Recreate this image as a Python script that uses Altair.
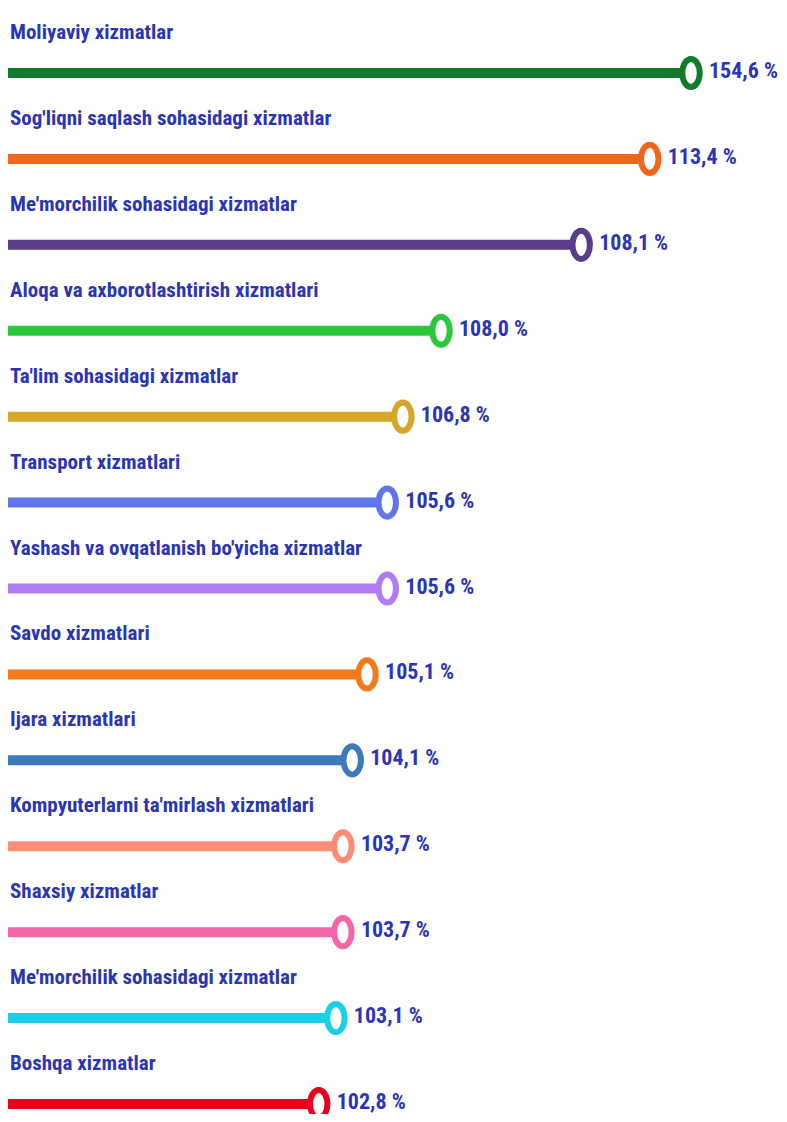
import altair as alt
import pandas as pd

categories = [
    "Moliyaviy xizmatlar",
    "Sog'liqni saqlash sohasidagi xizmatlar",
    "Me'morchilik sohasidagi xizmatlar",
    "Aloqa va axborotlashtirish xizmatlari",
    "Ta'lim sohasidagi xizmatlar",
    "Transport xizmatlari",
    "Yashash va ovqatlanish bo'yicha xizmatlar",
    "Savdo xizmatlari",
    "Ijara xizmatlari",
    "Kompyuterlarni ta'mirlash xizmatlari",
    "Shaxsiy xizmatlar",
    "Me'morchilik sohasidagi xizmatlar",
    "Boshqa xizmatlar",
]
values = [154.6, 113.4, 108.1, 108.0, 106.8, 105.6, 105.6, 105.1, 104.1, 103.7, 103.7, 103.1, 102.8]
# displayed bar length (% of the track), as drawn in the infographic
bar_length = [87.7, 82.4, 73.6, 55.6, 50.7, 48.7, 48.7, 46.1, 44.2, 43.0, 43.0, 42.1, 39.9]
colors = [
    "#137a2a", "#f4661b", "#5c3d8c", "#2cc83c", "#d6a62a", "#6176e8", "#b27cf2",
    "#f27a1a", "#3b7bbd", "#ff8c75", "#f566a6", "#1ccfe8", "#e8001c",
]

TEXT_COLOR = "#2a36b4"
FONT = "Liberation Sans Narrow, Arial Narrow, Roboto Condensed, sans-serif"

df = pd.DataFrame({
    "row": list(range(len(categories))),
    "category": categories,
    "value": values,
    "length": bar_length,
    "color": colors,
})
df["zero"] = 0
df["label"] = [f"{v:.1f}".replace(".", ",") + " %" for v in values]

xscale = alt.Scale(domain=[0, 99])
yscale = alt.Scale(domain=[0, 12], range=[65, 1096])
y = alt.Y("row:Q", scale=yscale, axis=None)

ring = "M -0.62,0 A 0.62,1 0 1,1 0.62,0 A 0.62,1 0 1,1 -0.62,0 Z"

base = alt.Chart(df)

bars = base.mark_rule(strokeWidth=10, strokeCap="butt").encode(
    x=alt.X("zero:Q", scale=xscale, axis=None),
    x2="length:Q",
    y=y,
    stroke=alt.Stroke("color:N", scale=None),
)

dots = base.mark_point(shape=ring, size=790, fill="white", fillOpacity=1, strokeWidth=6, opacity=1).encode(
    x=alt.X("length:Q", scale=xscale, axis=None),
    y=y,
    stroke=alt.Stroke("color:N", scale=None),
)

names = base.mark_text(
    align="left", baseline="alphabetic", dx=2, dy=-34,
    font=FONT, fontSize=21, fontWeight="bold", color=TEXT_COLOR,
).encode(
    x=alt.X("zero:Q", scale=xscale, axis=None),
    y=y,
    text="category:N",
)

vals = base.mark_text(
    align="left", baseline="middle", dx=18, dy=-2,
    font=FONT, fontSize=22, fontWeight="bold", color=TEXT_COLOR,
).encode(
    x=alt.X("length:Q", scale=xscale, axis=None),
    y=y,
    text="label:N",
)

chart = alt.layer(bars, dots, names, vals).properties(
    width=771,
    height=1106,
    autosize=alt.AutoSizeParams(type="none"),
    padding=0,
).configure_view(stroke=None)

chart.save("out.html", embed_options={"renderer": "svg", "actions": False})
